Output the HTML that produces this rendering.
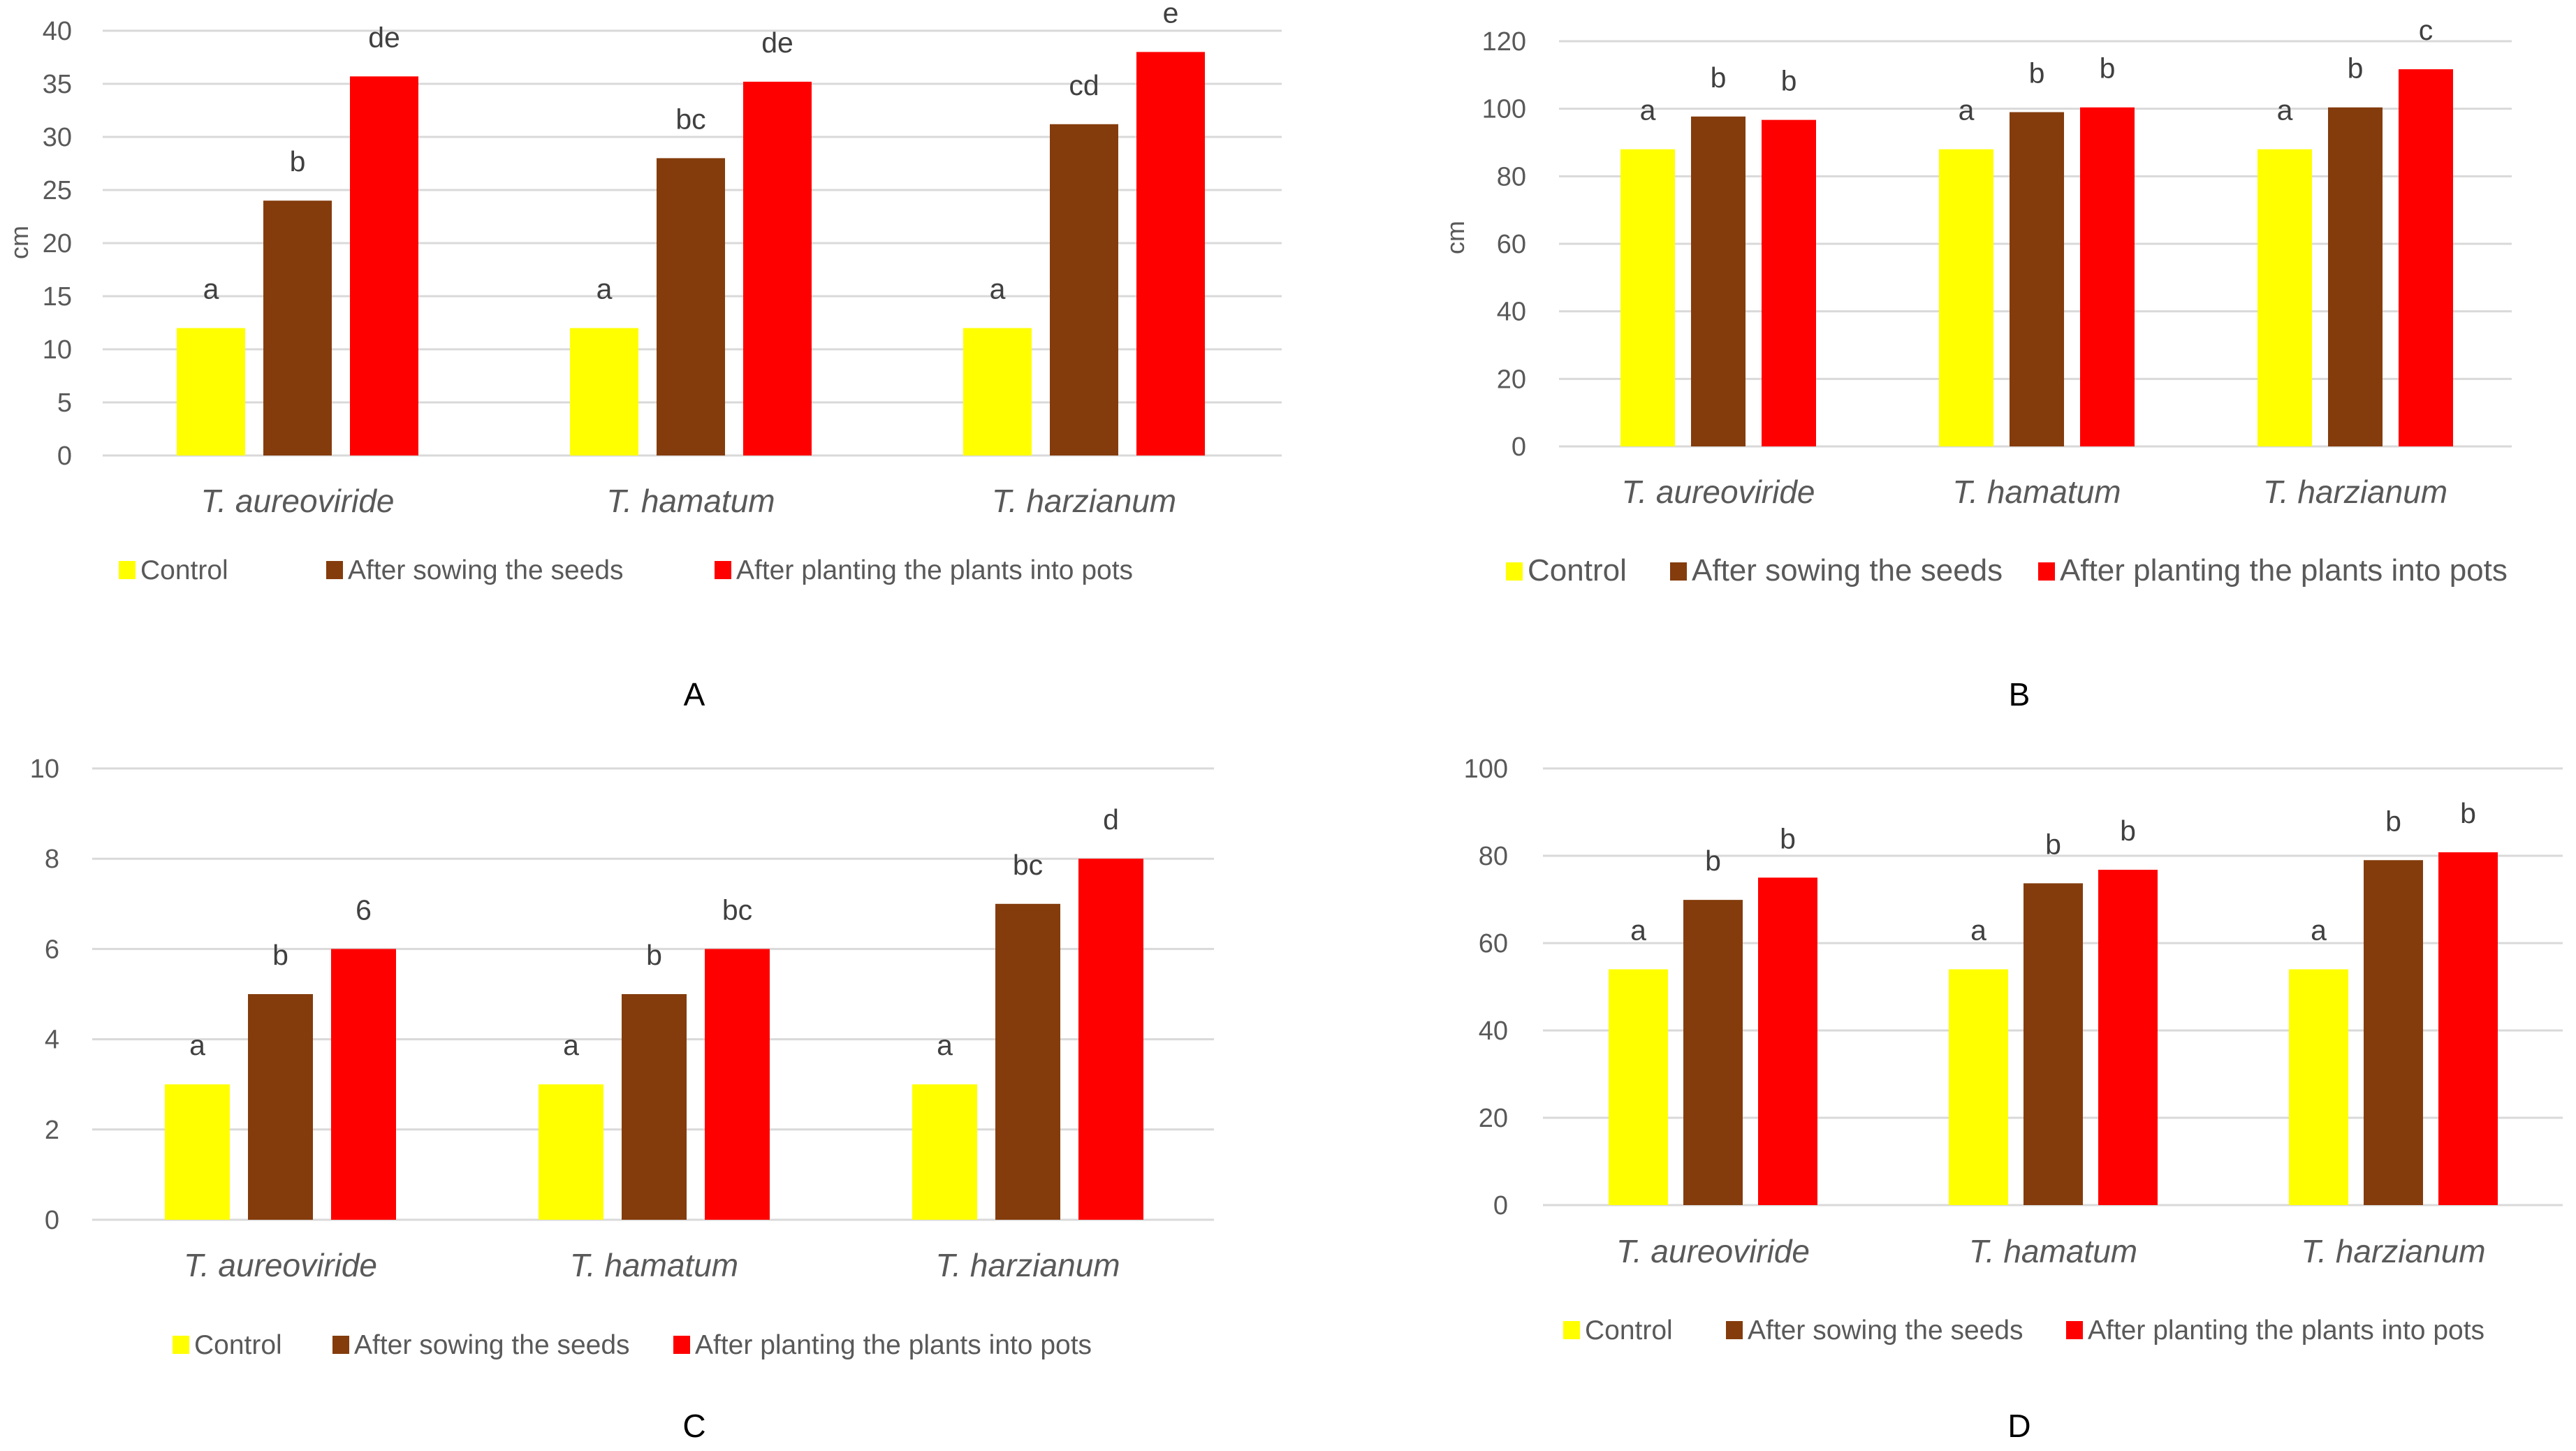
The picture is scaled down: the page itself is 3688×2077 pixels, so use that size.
<!DOCTYPE html>
<html><head><meta charset="utf-8">
<style>
html,body{margin:0;padding:0;background:#fff;}
svg{display:block;font-family:"Liberation Sans",sans-serif;}
</style></head>
<body>
<svg id="fig" width="3688" height="2077" viewBox="0 0 3688 2077" xmlns="http://www.w3.org/2000/svg"></svg>
<script>
const categories = ["T. aureoviride", "T. hamatum", "T. harzianum"];
const seriesNames = ["Control", "After sowing the seeds", "After planting the plants into pots"];
const colors = ["#ffff00", "#843c0c", "#ff0000"];

const aControl = [12, 12, 12];
const aSowing = [24, 28, 31.2];
const aPlanting = [35.7, 35.2, 38];
const aLetters = [["a","b","de"],["a","bc","de"],["a","cd","e"]];
const aTicks = [0,5,10,15,20,25,30,35,40];

const bControl = [88, 88, 88];
const bSowing = [97.7, 99, 100.4];
const bPlanting = [96.7, 100.4, 111.7];
const bLetters = [["a","b","b"],["a","b","b"],["a","b","c"]];
const bTicks = [0,20,40,60,80,100,120];

const cControl = [3, 3, 3];
const cSowing = [5, 5, 7];
const cPlanting = [6, 6, 8];
const cLetters = [["a","b","6"],["a","b","bc"],["a","bc","d"]];
const cTicks = [0,2,4,6,8,10];

const dControl = [54, 54, 54];
const dSowing = [69.9, 73.7, 79];
const dPlanting = [75, 76.8, 80.8];
const dLetters = [["a","b","b"],["a","b","b"],["a","b","b"]];
const dTicks = [0,20,40,60,80,100];

const NS = "http://www.w3.org/2000/svg";
const svg = document.getElementById("fig");
function mk(tag, attrs, parent, text){
  const e = document.createElementNS(NS, tag);
  for (const k in attrs) e.setAttribute(k, attrs[k]);
  if (text !== undefined) e.textContent = text;
  parent.appendChild(e);
  return e;
}

function drawPanel(p){
  const g = mk("g", {}, svg);
  
  
  const maxV = p.ticks[p.ticks.length-1];
  const y = v => p.y0 - (v / maxV) * (p.y0 - p.yTop);
  p.ticks.forEach(t => {
    const ln = mk("line", {x1:p.gx1, x2:p.gx2, y1:y(t), y2:y(t), stroke:"#d9d9d9", "stroke-width":3}, g);
    
    
    const tl = mk("text", {x:p.tickX, y:y(t)+13, "text-anchor":"end", "font-size":38, fill:"#595959"}, g, String(t));
    
    
  });
  if (p.cm) {
    const cm = mk("text", {x:p.cm[0], y:p.cm[1], "text-anchor":"middle", "font-size":36, fill:"#595959", transform:"rotate(-90 "+p.cm[0]+" "+p.cm[1]+")"}, g, "cm");
    
    
  }
  const series = [p.s0, p.s1, p.s2];
  categories.forEach((c, i) => {
    const gx = p.firstX + i * p.groupStep;
    series.forEach((vals, s) => {
      const x = gx + s * p.barStep;
      const r = mk("rect", {x:x, y:y(vals[i]), width:p.barW, height:p.y0 - y(vals[i]), fill:colors[s]}, g);
      
      
      const lt = mk("text", {x:x + p.barW/2, y:y(vals[i]) - 42, "text-anchor":"middle", "font-size":41, fill:"#404040"}, g, p.letters[i][s]);
      
      
    });
    const cl = mk("text", {x:gx + p.barStep + p.barW/2, y:p.catY, "text-anchor":"middle", "font-size":46, "font-style":"italic", fill:"#595959"}, g, c);
    
    
  });
  seriesNames.forEach((n, s) => {
    const sq = mk("rect", {x:p.legX[s], y:p.legY - 14, width:24, height:26, fill:colors[s]}, g);
    
    
    const lt = mk("text", {x:p.legX[s] + 31, y:p.legY + 12, "font-size":p.legFont, fill:"#595959"}, g, n);
    
    
  });
  const tt = mk("text", {x:p.title[0], y:p.title[1], "text-anchor":"middle", "font-size":46, fill:"#000"}, g, p.id);
  
  
}

drawPanel({id:"A", s0:aControl, s1:aSowing, s2:aPlanting, letters:aLetters, ticks:aTicks,
  y0:652, yTop:44, gx1:147, gx2:1835, tickX:103, cm:[40,347],
  firstX:253, groupStep:563, barStep:124, barW:98, catY:733,
  legX:[170,467,1023], legY:817, legFont:39, title:[994,1010]});
drawPanel({id:"B", s0:bControl, s1:bSowing, s2:bPlanting, letters:bLetters, ticks:bTicks,
  y0:639, yTop:59, gx1:2232, gx2:3596, tickX:2185, cm:[2096,340],
  firstX:2320, groupStep:456, barStep:101, barW:78, catY:720,
  legX:[2156,2391,2918], legY:819, legFont:44, title:[2891,1010]});
drawPanel({id:"C", s0:cControl, s1:cSowing, s2:cPlanting, letters:cLetters, ticks:cTicks,
  y0:1746, yTop:1100, gx1:132, gx2:1738, tickX:85, cm:null,
  firstX:236, groupStep:535, barStep:119, barW:93, catY:1827,
  legX:[247,476,964], legY:1926, legFont:39, title:[994,2057]});
drawPanel({id:"D", s0:dControl, s1:dSowing, s2:dPlanting, letters:dLetters, ticks:dTicks,
  y0:1725, yTop:1100, gx1:2209, gx2:3669, tickX:2159, cm:null,
  firstX:2303, groupStep:487, barStep:107, barW:85, catY:1807,
  legX:[2238,2471,2958], legY:1905, legFont:39, title:[2891,2057]});
</script>
</body></html>
